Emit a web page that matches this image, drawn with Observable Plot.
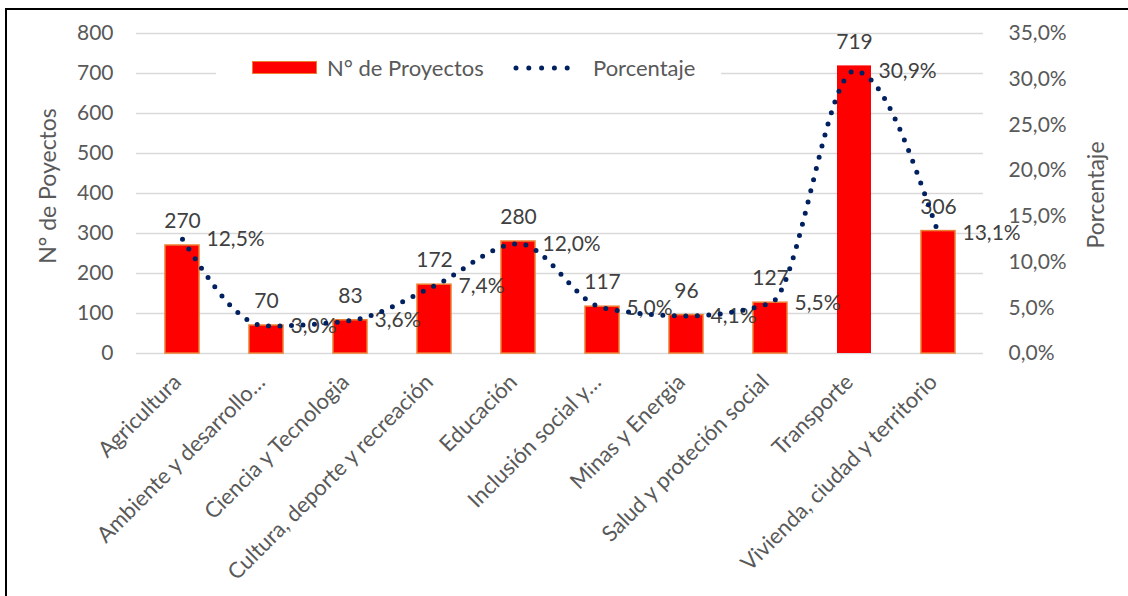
<!DOCTYPE html>
<html>
<head>
<meta charset="utf-8">
<script src="https://cdn.jsdelivr.net/npm/d3@7"></script>
<script src="https://cdn.jsdelivr.net/npm/@observablehq/plot@0.6"></script>
<style>
  body { margin: 0; background: #fff; font-family: Lato, "Open Sans", sans-serif; }
  #wrap { position: relative; width: 1128px; height: 596px; overflow: hidden; background: #fff; }
  #frame { position: absolute; left: 5px; top: 8px; width: 1300px; height: 800px; border: 2px solid #000; box-sizing: border-box; pointer-events: none; }
  #chart { position: absolute; left: 0; top: 0; }
  .ytitle { position: absolute; font-size: 23px; color: #595959; white-space: nowrap; transform: translate(-50%, -50%) rotate(-90deg); }
  #legend { position: absolute; left: 216px; top: 50px; width: 505px; height: 40px; background: #fff; font-size: 22px; color: #595959; }
  #legend .sw { position: absolute; left: 36px; top: 11px; width: 63px; height: 11px; background: #FF0000; border: 1.5px solid #ED7D31; }
  #legend .t1 { position: absolute; left: 111px; top: 4px; white-space: nowrap; }
  #legend svg { position: absolute; left: 296px; top: 12px; }
  #legend .t2 { position: absolute; left: 377px; top: 4px; white-space: nowrap; }
</style>
</head>
<body>
<div id="wrap">
  <div id="chart"></div>
  <div id="legend">
    <div class="sw"></div><div class="t1">N° de Proyectos</div>
    <svg width="72" height="12"><line x1="4" y1="6" x2="68" y2="6" stroke="#002060" stroke-width="5" stroke-linecap="round" stroke-dasharray="0 12.8"></line></svg>
    <div class="t2">Porcentaje</div>
  </div>
  <div class="ytitle" style="left:47px; top:186px;">N° de Poyectos</div>
  <div class="ytitle" style="left:1095px; top:195px;">Porcentaje</div>
  <div id="frame"></div>
</div>
<script>
const categories = [
  "Agricultura",
  "Ambiente y desarrollo…",
  "Ciencia y Tecnologia",
  "Cultura, deporte y recreación",
  "Educación",
  "Inclusión social y…",
  "Minas y Energia",
  "Salud y proteción social",
  "Transporte",
  "Vivienda, ciudad y territorio"
];
const proyectos = [270, 70, 83, 172, 280, 117, 96, 127, 719, 306];
const porcentaje = [12.5, 3.0, 3.6, 7.4, 12.0, 5.0, 4.1, 5.5, 30.9, 13.1];
const yTicks = [0, 100, 200, 300, 400, 500, 600, 700, 800];
const pctTicks = [0, 5, 10, 15, 20, 25, 30, 35];

const Y_MAX = 800, PCT_MAX = 35;
const k = Y_MAX / PCT_MAX;
const fmtPct = v => v.toFixed(1).replace(".", ",") + "%";
const rows = categories.map((c, i) => ({cat: c, n: proyectos[i], p: porcentaje[i], pv: porcentaje[i] * k}));

const chart = Plot.plot({
  width: 1128,
  height: 596,
  marginLeft: 136,
  marginRight: 145,
  marginTop: 33,
  marginBottom: 243,
  style: {fontFamily: "Lato, 'Open Sans', sans-serif", fontSize: "21px", color: "#595959", background: "transparent", overflow: "visible"},
  x: {domain: categories, paddingInner: 0.6, paddingOuter: 0.3, label: null},
  y: {domain: [0, Y_MAX], label: null},
  marks: [
    Plot.gridY(yTicks, {stroke: "#D9D9D9", strokeOpacity: 1, strokeWidth: 1.5}),
    Plot.axisY(yTicks, {anchor: "left", tickSize: 0, tickPadding: 23, label: null, fill: "#595959", fontSize: 21}),
    Plot.axisY(pctTicks.map(t => t * k), {anchor: "right", tickSize: 0, tickPadding: 25, label: null, fill: "#595959", fontSize: 21, tickFormat: v => fmtPct(v / k)}),
    Plot.axisX({tickRotate: -45, tickSize: 0, tickPadding: 25, dx: -5, label: null, fill: "#595959", fontSize: 22}),
    Plot.barY(rows, {x: "cat", y: "n", fill: "#FF0000", stroke: d => d.cat === "Transporte" ? "none" : "#ED7D31", strokeWidth: 1.5}),
    Plot.text(rows, {x: "cat", y: "n", text: d => String(d.n), dy: -24, fill: "#404040", fontSize: 21}),
    Plot.text(rows, {x: "cat", y: "pv", text: d => fmtPct(d.p), dx: 24, textAnchor: "start", fill: "#404040", fontSize: 21}),
    Plot.line(rows, {x: "cat", y: "pv", curve: "monotone-x", stroke: "#002060", strokeWidth: 5, strokeDasharray: "0 11.5", strokeLinecap: "round"})
  ]
});
document.getElementById("chart").appendChild(chart);
</script>
</body>
</html>
